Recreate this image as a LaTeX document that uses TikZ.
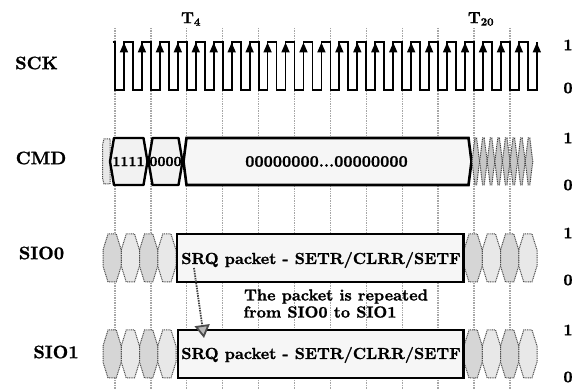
\documentclass[tikz,border=0pt]{standalone}
\usepackage{fontspec}
\newfontfamily\heavy{lmroman10-bold.otf}[FakeBold=1.2]
\usetikzlibrary{arrows.meta}
\newcommand\hexcell[5]{(#1,{(#3+#4)/2}) -- ({#1+#5},#3) -- ({#2-#5},#3) -- (#2,{(#3+#4)/2}) -- ({#2-#5},#4) -- ({#1+#5},#4) -- cycle}
\newcommand\octcell[4]{(#1,{#3+16}) -- ({#1+5},#3) -- ({#2-5},#3) -- (#2,{#3+16}) -- (#2,{#4-16}) -- ({#2-5},#4) -- ({#1+5},#4) -- (#1,{#4-16}) -- cycle}
\tikzset{
  lbl/.style={font=\fontsize{16}{18}\selectfont\heavy, inner sep=0pt},
  side/.style={font=\fontsize{18}{20}\selectfont\heavy, inner sep=0pt},
  small/.style={font=\fontsize{14}{16}\selectfont\heavy, inner sep=0pt},
  gridline/.style={draw=gray!70, line width=1.3pt, dash pattern=on 1pt off 0.7pt},
  wave/.style={draw=black, line width=1.8pt, line join=miter},
  clkarrow/.style={draw=black, line width=1.8pt, -{Triangle[width=8pt,length=10pt]}},
  buscell/.style={draw=black, line width=2.4pt, fill=gray!10, line join=round},
  bigbox/.style={draw=black, line width=2.6pt, fill=gray!7},
  dotcellA/.style={draw=gray!60!black, line width=1pt, dash pattern=on 1pt off 0.8pt, fill=gray!32},
  dotcellB/.style={draw=gray!60!black, line width=1pt, dash pattern=on 1pt off 0.8pt, fill=gray!18},
  dotcellC/.style={draw=gray!50!black, line width=1pt, dash pattern=on 1pt off 0.8pt, fill=gray!45},
  repeatarrow/.style={draw=black!75, line width=1.8pt, dash pattern=on 1.5pt off 1pt,
     -{Triangle[width=15pt,length=13pt,color=black!70,fill=gray!55]}}
}
\begin{document}
\begin{tikzpicture}[x=1pt,y=-1pt]
\useasboundingbox (0,0) rectangle (579,390);
% grid lines
\foreach \k in {0,...,11} {
  \draw[gridline] ({115+35.9*\k},28) -- ({115+35.9*\k},390);
}
% SCK waveform
\draw[wave] (112.7,42) -- (115,42) -- (115,90)
  \foreach \k in {0,...,22} { -- ({123.975+17.95*\k},90) -- ({123.975+17.95*\k},42)
     -- ({132.95+17.95*\k},42) -- ({132.95+17.95*\k},90) }
  -- (536.8,90) -- (536.8,42);
\foreach \k in {0,...,23} {
  \draw[clkarrow] ({123.975+17.95*\k},62) -- ({123.975+17.95*\k},42.5);
}
% CMD row
\draw[dotcellB] (110,139) -- (104,139) -- (102.5,145) -- (102.5,178) -- (104,184) -- (110,184) -- cycle;
\draw[buscell] \hexcell{110}{147.5}{138}{185}{4};
\draw[buscell] \hexcell{148.5}{182.5}{138}{185}{4};
\draw[bigbox] \hexcell{183.5}{471.5}{138}{185}{3};
\foreach \k in {0,...,7} {
  \draw[dotcellC] \hexcell{472+7.6*\k}{479.6+7.6*\k}{138}{185}{3};
}
\node[small] (c1) at (128.5,161.5) {1111};
\node[small] (c0) at (165.5,161.5) {0000};
\node[lbl] (cz) at (326.5,161.5) {00000000...00000000};
% SIO0 row
\foreach \k in {0,...,3} {
  \ifodd\k \draw[dotcellB] \octcell{103+18.25*\k}{121.25+18.25*\k}{234}{282};
  \else \draw[dotcellA] \octcell{103+18.25*\k}{121.25+18.25*\k}{234}{282}; \fi
  \ifodd\k \draw[dotcellB] \octcell{464+18.25*\k}{482.25+18.25*\k}{234}{282};
  \else \draw[dotcellA] \octcell{464+18.25*\k}{482.25+18.25*\k}{234}{282}; \fi
}
\draw[bigbox] (177,234) rectangle (463.5,282);
\node[lbl] (s0) at (321,260) {SRQ packet - SETR/CLRR/SETF};
% SIO1 row
\foreach \k in {0,...,3} {
  \ifodd\k \draw[dotcellB] \octcell{103+18.25*\k}{121.25+18.25*\k}{330}{378};
  \else \draw[dotcellA] \octcell{103+18.25*\k}{121.25+18.25*\k}{330}{378}; \fi
  \ifodd\k \draw[dotcellB] \octcell{464+18.25*\k}{482.25+18.25*\k}{330}{378};
  \else \draw[dotcellA] \octcell{464+18.25*\k}{482.25+18.25*\k}{330}{378}; \fi
}
\draw[bigbox] (178,330) rectangle (463.5,378);
\node[lbl] (s1) at (321,355) {SRQ packet - SETR/CLRR/SETF};
% note and arrow
\node[lbl] (n1) at (336,296.5) {The packet is repeated};
\node[lbl] (n2) at (320,312) {from SIO0 to SIO1};
\coordinate (af) at (194,268);
\coordinate (at) at (204,338);
\draw[repeatarrow] (af) -- (at);
% left labels
\node[side] (lsck) at (36.5,63) {SCK};
\node[side] (lcmd) at (41,158) {CMD};
\node[side] (lsio0) at (41.5,253) {SIO0};
\node[side] (lsio1) at (56,352) {SIO1};
% time labels
\node[lbl] (t4) at (191,19) {T\textsubscript{4}};
\node[lbl] (t20) at (481,19) {T\textsubscript{20}};
% level labels
\node[lbl] (r1) at (568,45) {1};
\node[lbl] (r2) at (568,88) {0};
\node[lbl] (r3) at (568,138) {1};
\node[lbl] (r4) at (568,185) {0};
\node[lbl] (r5) at (568,233) {1};
\node[lbl] (r6) at (568,280) {0};
\node[lbl] (r7) at (568,330) {1};
\node[lbl] (r8) at (568,377) {0};
\end{tikzpicture}
\end{document}
